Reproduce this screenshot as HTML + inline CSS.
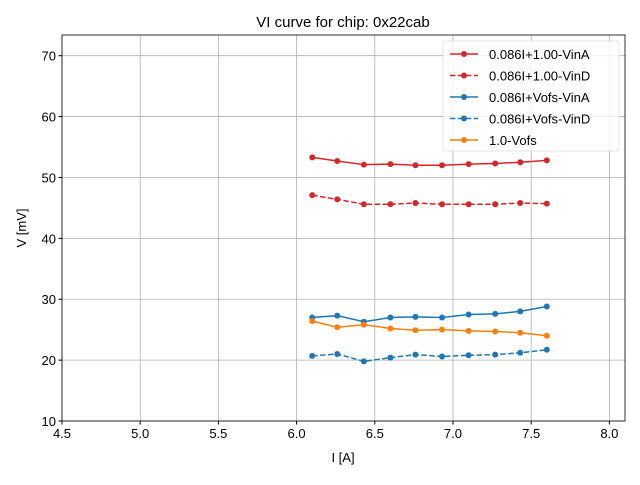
<!DOCTYPE html>
<html><head><meta charset="utf-8"><style>body{margin:0;background:#fff}svg{font-family:"Liberation Sans","DejaVu Sans",sans-serif}</style></head>
<body>
<svg id="c" width="640" height="480" viewBox="0 0 640 480"></svg>
<script>
const xs=[6.1,6.26,6.43,6.6,6.76,6.93,7.1,7.27,7.43,7.6];
const redA=[53.3,52.7,52.1,52.2,52.0,52.0,52.2,52.3,52.5,52.8];
const redD=[47.1,46.4,45.6,45.6,45.8,45.6,45.6,45.6,45.8,45.7];
const blueA=[27.0,27.3,26.3,27.0,27.1,27.0,27.5,27.6,28.0,28.8];
const blueD=[20.7,21.0,19.8,20.4,20.9,20.6,20.8,20.9,21.2,21.7];
const orange=[26.4,25.4,25.8,25.2,24.9,25.0,24.8,24.7,24.5,24.0];
const xTicks=[4.5,5.0,5.5,6.0,6.5,7.0,7.5,8.0];
const yTicks=[10,20,30,40,50,60,70];
const labels=["0.086I+1.00-VinA","0.086I+1.00-VinD","0.086I+Vofs-VinA","0.086I+Vofs-VinD","1.0-Vofs"];
const NS="http://www.w3.org/2000/svg",svg=document.getElementById('c');
const L=62,R=625,T=35,B=421,x0=4.5,x1=8.1,y0=10,y1=73.4;
const X=v=>L+(v-x0)/(x1-x0)*(R-L),Y=v=>B-(v-y0)/(y1-y0)*(B-T);
function el(t,a,p){const e=document.createElementNS(NS,t);for(const k in a)e.setAttribute(k,a[k]);(p||svg).appendChild(e);return e;}
xTicks.forEach(v=>{const g=el('line',{x1:X(v),x2:X(v),y1:T,y2:B,stroke:'#b0b0b0','stroke-width':0.8});

el('line',{x1:X(v),x2:X(v),y1:B,y2:B+3.5,stroke:'#000'});
const t=el('text',{x:X(v),y:B+17,'text-anchor':'middle','font-size':13});t.textContent=v.toFixed(1);
});
yTicks.forEach(v=>{const g=el('line',{x1:L,x2:R,y1:Y(v),y2:Y(v),stroke:'#b0b0b0','stroke-width':0.8});

el('line',{x1:L-3.5,x2:L,y1:Y(v),y2:Y(v),stroke:'#000'});
const t=el('text',{x:L-6,y:Y(v)+5,'text-anchor':'end','font-size':13});t.textContent=v;
});
const lb=el('rect',{x:443,y:41,width:176,height:110,rx:3,fill:'#fff','fill-opacity':0.8,stroke:'#ddd','stroke-opacity':0.8});

const series=[[redA,'#d62728',''],[redD,'#d62728','5.5,2.4'],[blueA,'#1f77b4',''],[blueD,'#1f77b4','5.5,2.4'],[orange,'#ff7f0e','']];
series.forEach((s,i)=>{const p=el('polyline',{points:xs.map((x,j)=>X(x)+','+Y(s[0][j])).join(' '),fill:'none',stroke:s[1],'stroke-width':1.5,'stroke-dasharray':s[2]});

xs.forEach((x,j)=>{const c=el('circle',{cx:X(x),cy:Y(s[0][j]),r:3,fill:s[1]});});
const ly=54+i*21.5;
const ll=el('line',{x1:450,x2:478,y1:ly,y2:ly,stroke:s[1],'stroke-width':1.5,'stroke-dasharray':s[2]});

el('circle',{cx:464,cy:ly,r:3,fill:s[1]});
const lt=el('text',{x:489,y:ly+5,'font-size':13});lt.textContent=labels[i];
});
const f=el('rect',{x:L,y:T,width:R-L,height:B-T,fill:'none',stroke:'#000','stroke-width':0.8});

let t=el('text',{x:343,y:27,'text-anchor':'middle','font-size':15});t.textContent='VI curve for chip: 0x22cab';

t=el('text',{x:343,y:462,'text-anchor':'middle','font-size':13});t.textContent='I [A]';

t=el('text',{x:26,y:228,'text-anchor':'middle','font-size':13,transform:'rotate(-90 26 228)'});t.textContent='V [mV]';

</script>
</body></html>
